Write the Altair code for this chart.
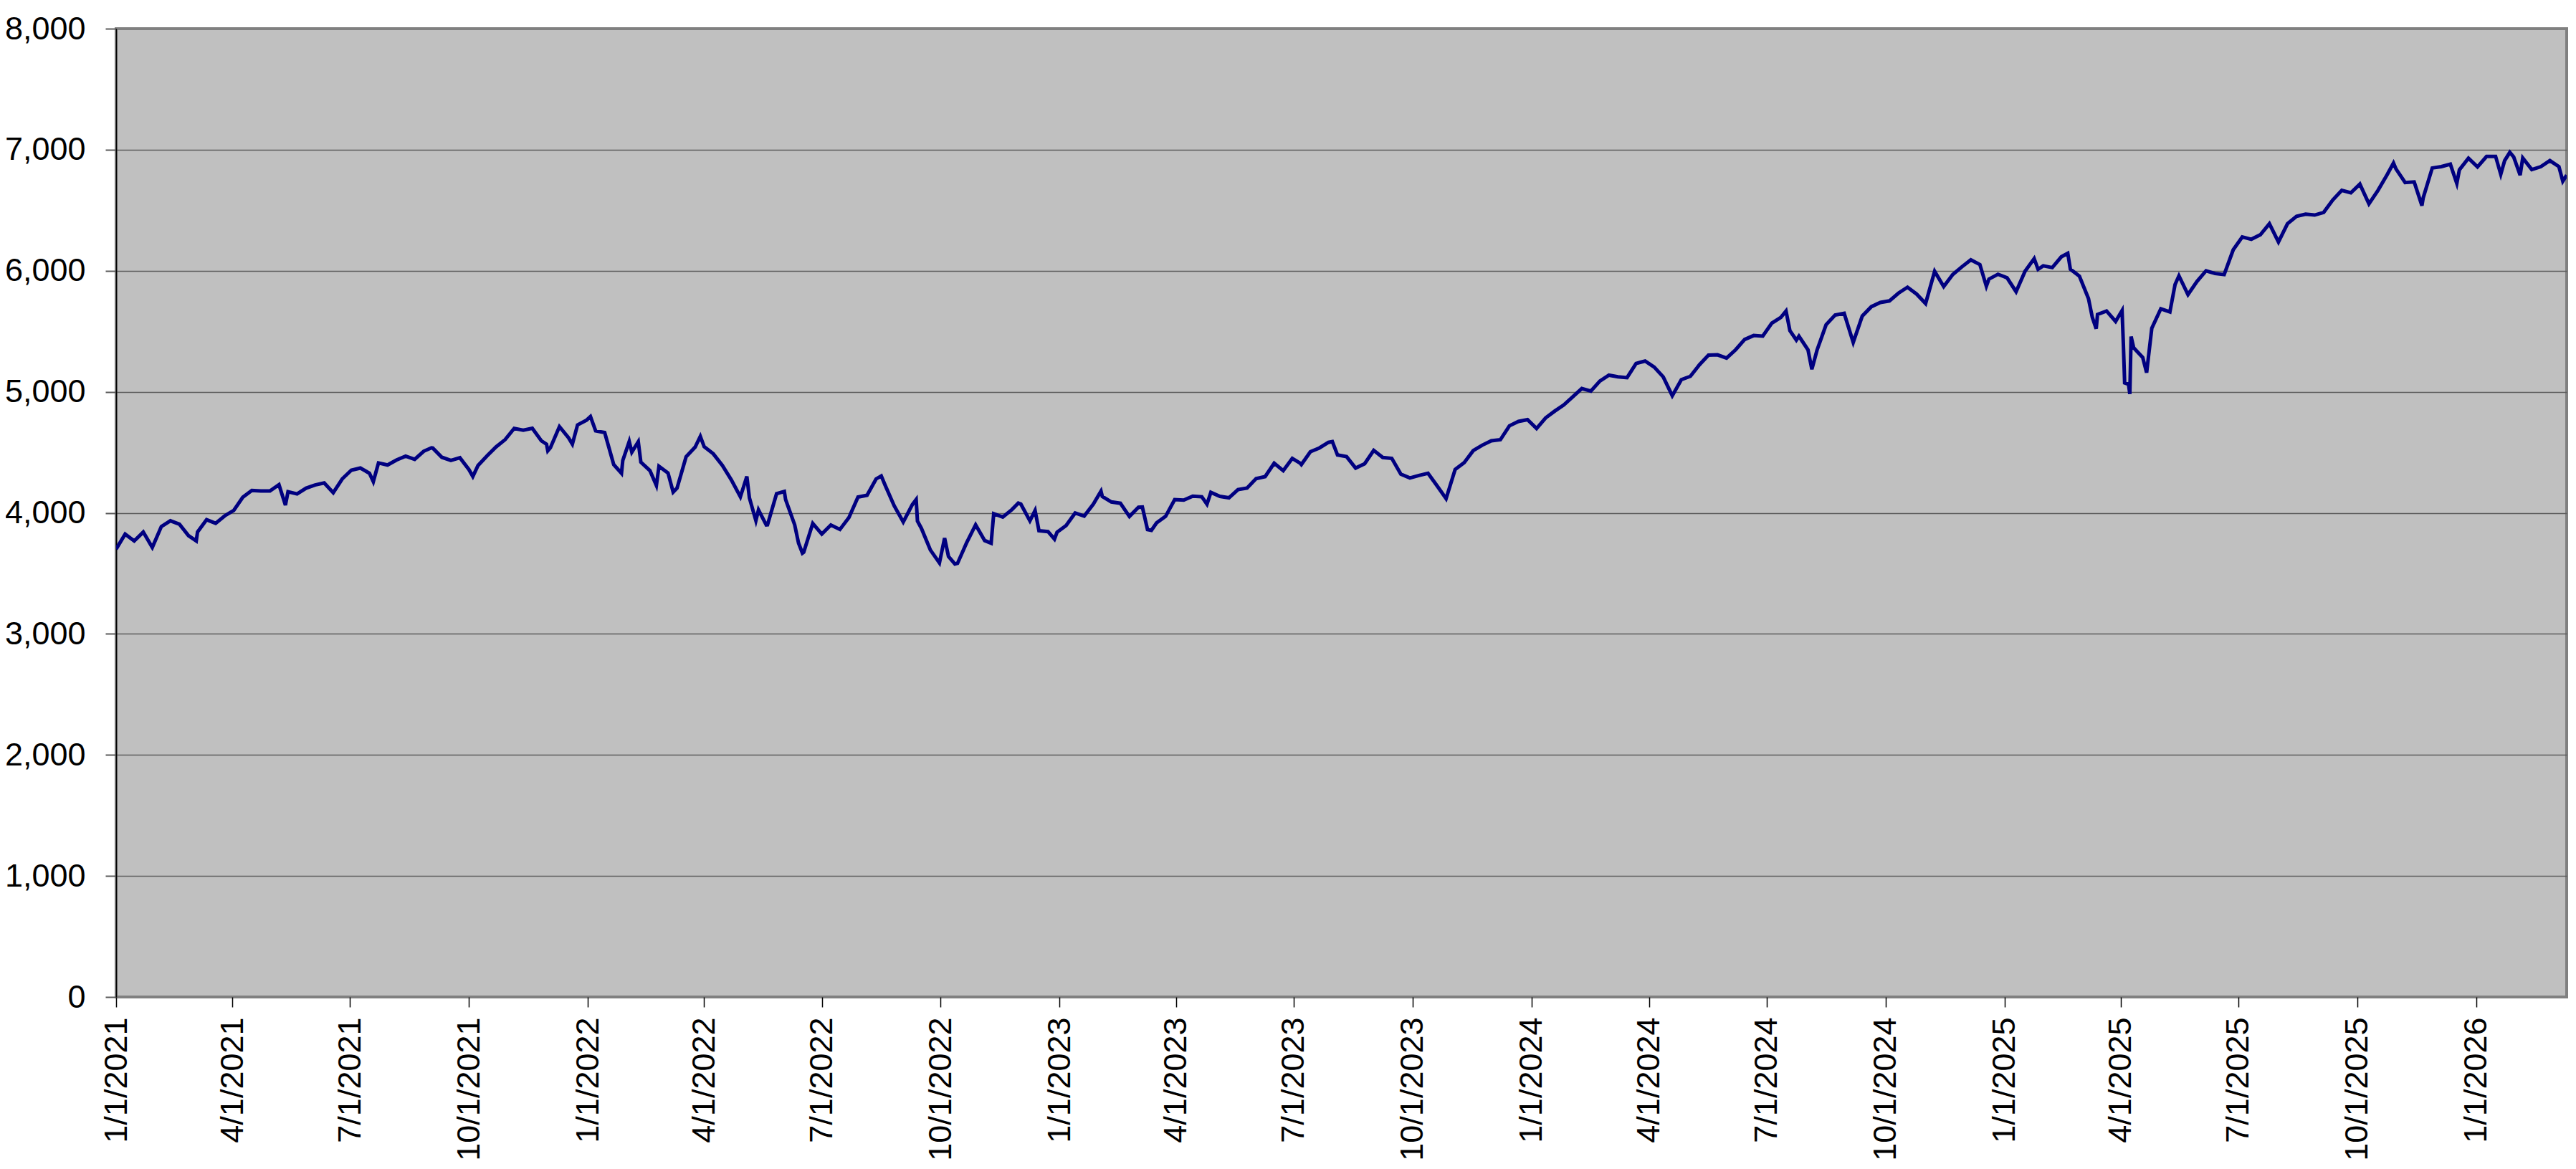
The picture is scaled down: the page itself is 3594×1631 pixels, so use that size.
import altair as alt
import pandas as pd

# Weekly (Friday) closes, starting Fri 1/1/2021
values_2021 = [3700, 3824, 3768, 3841, 3714, 3887, 3934, 3906, 3811, 3842, 3943, 3913, 3975,
               4020, 4129, 4185, 4180, 4181, 4233, 4174, 4156, 4204, 4230, 4247, 4166, 4281,
               4352, 4370, 4327, 4412, 4395, 4437, 4468, 4442, 4509, 4535, 4459, 4433, 4455,
               4357, 4391, 4471, 4545, 4605, 4697, 4683, 4698, 4595, 4538, 4712, 4621, 4726, 4766]
values_2022 = [4677, 4663, 4398, 4432, 4501, 4419, 4349, 4385, 4329, 4204, 4463, 4543, 4546,
               4488, 4393, 4272, 4132, 4123, 4024, 3901, 4158, 4109, 3901, 3675, 3912, 3825,
               3899, 3863, 3962, 4130, 4145, 4280, 4228, 4058, 3924, 4067, 3873, 3693, 3586,
               3640, 3583, 3752, 3901, 3771, 3993, 3965, 4026, 4072, 3934, 3852, 3845, 3840]
values_2023 = [3895, 3999, 3973, 4071, 4136, 4090, 4079, 3970, 4046, 3862, 3917, 3971, 4109,
               4105, 4138, 4133, 4169, 4136, 4124, 4192, 4205, 4282, 4299, 4410, 4348, 4450,
               4399, 4505, 4536, 4582, 4478, 4464, 4370, 4406, 4516, 4457, 4450, 4320, 4288,
               4309, 4327, 4224, 4117, 4358, 4415, 4514, 4559, 4595, 4604, 4719, 4755, 4770]
values_2024 = [4697, 4784, 4840, 4891, 4959, 5027, 5006, 5089, 5137, 5124, 5117, 5234, 5254,
               5204, 5123, 4967, 5100, 5128, 5223, 5303, 5305, 5278, 5347, 5432, 5465, 5460,
               5567, 5615, 5505, 5459, 5347, 5344, 5554, 5634, 5648, 5408, 5626, 5703, 5738,
               5751, 5815, 5864, 5808, 5729, 5995, 5870, 5969, 6032, 6090, 6051, 5931, 5971]
values_2025 = [5942, 5827, 5997, 6101, 6041, 6026, 6115, 6013, 5955, 5770, 5639, 5667, 5581,
               5074, 5363, 5283, 5525, 5686, 5660, 5958, 5803, 5912, 6000, 5977, 5968, 6173,
               6279, 6260, 6297, 6389, 6238, 6389, 6450, 6467, 6460, 6482, 6584, 6664, 6644,
               6716, 6553, 6664, 6792, 6840, 6729, 6734, 6603, 6849, 6860, 6880, 6834, 6930]
values_2026 = [6858, 6944, 6945, 6910, 6940, 6932, 6836, 6860, 6910, 6860]

# Intra-week highs / lows visible in the chart
extra_dates = ["2021-03-04", "2021-05-12", "2021-07-19", "2021-09-02", "2021-10-04",
               "2021-11-30", "2021-12-01", "2021-12-20", "2022-01-03", "2022-01-27",
               "2022-02-02", "2022-02-09", "2022-02-23", "2022-03-08", "2022-03-29",
               "2022-05-04", "2022-05-11", "2022-05-19", "2022-06-02", "2022-06-13",
               "2022-06-16", "2022-08-16", "2022-09-12", "2022-09-13", "2022-10-04",
               "2022-10-12", "2022-11-09", "2022-11-30", "2022-12-13", "2022-12-28",
               "2023-02-02", "2023-03-06", "2023-03-13", "2023-04-25", "2023-07-06",
               "2023-07-31", "2024-07-16", "2024-07-24", "2024-08-05", "2024-12-18",
               "2025-01-27", "2025-02-19", "2025-03-10", "2025-03-13", "2025-04-02",
               "2025-04-03", "2025-04-07", "2025-04-08", "2025-04-09", "2025-04-21",
               "2025-05-13", "2025-10-29", "2025-11-20", "2025-12-17", "2026-01-20",
               "2026-01-27", "2026-02-04", "2026-03-09", "2026-03-12"]
extra_values = [3768, 4063, 4258, 4537, 4300,
                4567, 4513, 4568, 4796, 4327,
                4589, 4587, 4226, 4171, 4632,
                4300, 3935, 3900, 4177, 3750,
                3667, 4305, 4110, 3932, 3791,
                3577, 3749, 4080, 4019, 3783,
                4179, 4048, 3855, 4071, 4411,
                4589, 5667, 5427, 5186, 5872,
                6012, 6144, 5614, 5521, 5671,
                5397, 5062, 4982, 5457, 5158,
                5886, 6890, 6538, 6721, 6797,
                6978, 6790, 6740, 6790]

y_ticks = [0, 1000, 2000, 3000, 4000, 5000, 6000, 7000, 8000]
x_ticks = [(y, m) for y in range(2021, 2027) for m in (1, 4, 7, 10) if (y, m) <= (2026, 1)]

weekly = values_2021 + values_2022 + values_2023 + values_2024 + values_2025 + values_2026
weekly_dates = pd.date_range("2021-01-01", periods=len(weekly), freq="W-FRI")
df = pd.DataFrame({
    "date": list(weekly_dates) + list(pd.to_datetime(extra_dates)),
    "value": weekly + extra_values,
}).sort_values("date")
df["date"] = df["date"].dt.strftime("%Y-%m-%dT00:00:00")

FONT = "Liberation Sans"

x_axis = alt.Axis(
    values=[alt.DateTime(year=y, month=m, date=1) for y, m in x_ticks],
    format="%-m/%-d/%Y", labelAngle=270, labelFont=FONT, labelFontSize=45,
    labelColor="black", labelPadding=14, labelOverlap=False, labelFlush=False,
    labelLimit=600,
    tickSize=14, tickColor="black", tickWidth=1.5, domain=False, grid=False, title=None,
)
y_axis = alt.Axis(
    values=y_ticks, format=",d", labelFont=FONT, labelFontSize=45, labelColor="black",
    labelPadding=28, tickSize=15, tickColor="#5a5a5a", tickWidth=2,
    domainColor="black", domainWidth=1.5,
    gridColor={"condition": {"test": "datum.value == 8000 || datum.value == 0", "value": "#808080"},
               "value": "#5c5c5c"},
    gridWidth=1.6, title=None,
)

chart = alt.Chart(df).mark_line(color="#000080", strokeWidth=5, clip=True).encode(
    x=alt.X("date:T", axis=x_axis,
            scale=alt.Scale(domain=[alt.DateTime(year=2021, month=1, date=1),
                                    alt.DateTime(year=2026, month=3, date=12)], nice=False)),
    y=alt.Y("value:Q", axis=y_axis, scale=alt.Scale(domain=[0, 8000], nice=False)),
).properties(
    width=3419, height=1351,
    autosize=alt.AutoSizeParams(type="none"),
    padding={"left": 154, "top": 32, "right": 5, "bottom": 232},
    background="white",
).configure_view(fill="#C0C0C0", stroke="#808080", strokeWidth=4)

chart.save("out.html", embed_options={"renderer": "svg", "actions": False})
